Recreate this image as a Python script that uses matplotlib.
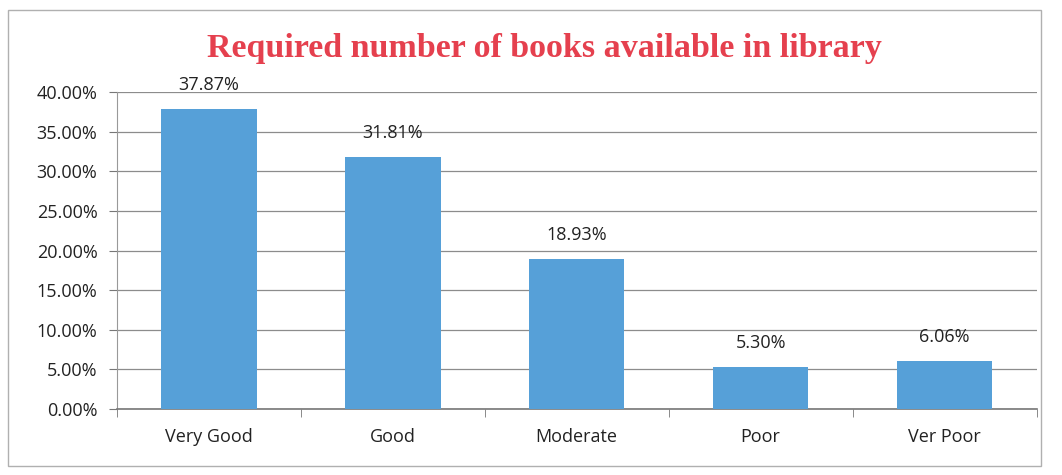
import matplotlib.pyplot as plt
from matplotlib.patches import Rectangle
from matplotlib.ticker import FuncFormatter, FixedLocator

# data
categories = ['Very Good', 'Good', 'Moderate', 'Poor', 'Ver Poor']
values = [37.87, 31.81, 18.93, 5.30, 6.06]
labels = ['37.87%', '31.81%', '18.93%', '5.30%', '6.06%']

plt.rcParams['font.family'] = ['Open Sans', 'DejaVu Sans']

fig = plt.figure(figsize=(10.62, 4.75), dpi=100)
ax = fig.add_axes([0.110, 0.139, 0.866, 0.667])

# chart border
fig.patches.append(Rectangle((0.008, 0.02), 0.972, 0.96, transform=fig.transFigure,
                             fill=False, edgecolor='#b0b0b0', lw=1.0))

x = range(len(categories))
ax.bar(x, values, width=0.52, color='#56A0D8', zorder=3)
for i, v in enumerate(values):
    ax.text(i, v + 1.9, labels[i], ha='center', va='bottom', fontsize=13, color='#222222')

ax.set_xlim(-0.5, len(categories) - 0.5)
ax.set_ylim(0, 40)
ax.set_yticks(range(0, 41, 5))
ax.yaxis.set_major_formatter(FuncFormatter(lambda v, p: f'{v:.2f}%'))
ax.grid(axis='y', color='#8c8c8c', lw=0.9, zorder=0)

ax.set_xticks(list(x))
ax.set_xticklabels(categories, fontsize=13, color='#222222')
ax.xaxis.set_minor_locator(FixedLocator([i + 0.5 for i in range(-1, len(categories))]))
ax.tick_params(axis='x', which='major', length=0, pad=14)
ax.tick_params(axis='x', which='minor', length=6, color='#777777')
ax.tick_params(axis='y', length=6, color='#777777', labelsize=13, labelcolor='#222222', pad=8)

for s in ['top', 'right']:
    ax.spines[s].set_visible(False)
ax.spines['left'].set_color('#999999')
ax.spines['bottom'].set_color('#777777')
ax.spines['bottom'].set_linewidth(1.2)

fig.text(0.513, 0.897, 'Required number of books available in library', ha='center', va='center',
         fontsize=24.5, fontweight='bold', color='#E5404E', family='Liberation Serif')

fig.savefig('out.png', dpi=100)
